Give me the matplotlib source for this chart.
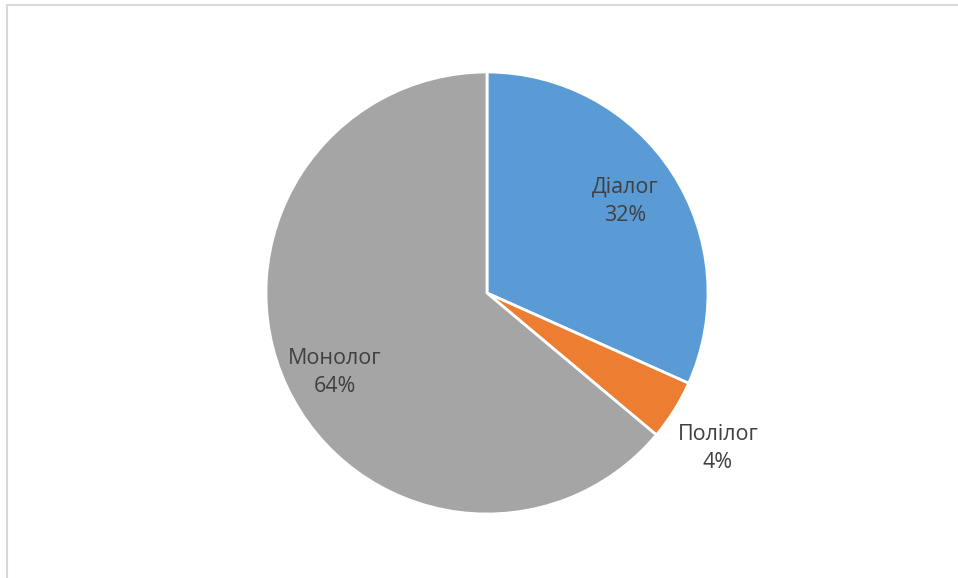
import matplotlib.pyplot as plt
from matplotlib.patches import Rectangle

# data
labels = ["Діалог", "Полілог", "Монолог"]
shares = [31.7, 4.4, 63.9]
colors = ["#5B9BD5", "#ED7D31", "#A5A5A5"]
label_pos = [(0.625, 0.416), (1.045, -0.704), (-0.688, -0.36)]

plt.rcParams['font.family'] = ['Open Sans', 'DejaVu Sans']

fig = plt.figure(figsize=(9.58, 5.78), dpi=100)

# light chart-area border (only left/top visible in the crop)
fig.patches.append(Rectangle((6.5 / 958, -0.05), 1.1, (578 - 4.5) / 578 + 0.05,
                             transform=fig.transFigure, fill=False,
                             edgecolor="#D9D9D9", linewidth=1.5))

cx, cy, r = 487, 293, 221
ax = fig.add_axes([(cx - r) / 958, (578 - cy - r) / 578, 2 * r / 958, 2 * r / 578])
ax.pie(shares, colors=colors, startangle=90, counterclock=False,
       wedgeprops=dict(edgecolor="white", linewidth=2))
ax.set_xlim(-1, 1)
ax.set_ylim(-1, 1)
ax.set_aspect("equal")

for name, val, (x, y) in zip(labels, shares, label_pos):
    ax.text(x, y, f"{name}\n{round(val)}%", ha="center", va="center",
            fontsize=15.5, color="#404040", linespacing=1.45, clip_on=False)

fig.savefig("out.png", dpi=100)
